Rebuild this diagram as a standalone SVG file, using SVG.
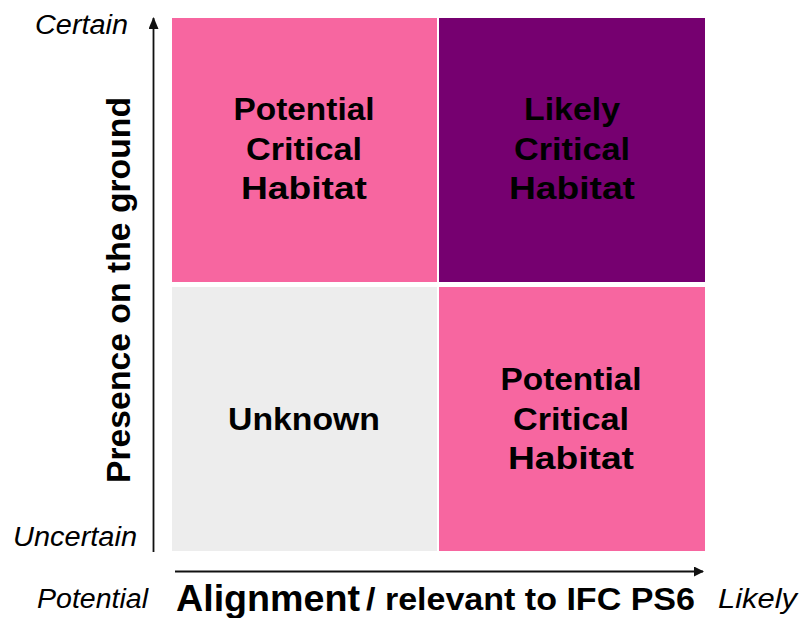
<svg xmlns="http://www.w3.org/2000/svg" width="801" height="618" viewBox="0 0 801 618">
<style>
.q{font-family:"Liberation Sans",Arial,sans-serif;font-weight:bold;font-size:32px;fill:#000;text-anchor:middle}
.it{font-family:"Liberation Sans",Arial,sans-serif;font-style:italic;font-size:27px;fill:#000}
.ax{font-family:"Liberation Sans",Arial,sans-serif;font-weight:bold;fill:#000}
.ln{stroke:#111;stroke-width:1.8;fill:none}
</style>
<defs>
<marker id="ah" markerWidth="10" markerHeight="10" refX="9" refY="5" orient="auto" markerUnits="userSpaceOnUse" viewBox="0 0 10 10">
<path d="M0,0 L10,5 L0,10 z" fill="#111"/>
</marker>
<marker id="av" markerWidth="12" markerHeight="10" refX="11" refY="5" orient="auto" markerUnits="userSpaceOnUse" viewBox="0 0 12 10">
<path d="M0,0 L12,5 L0,10 z" fill="#111"/>
</marker>
</defs>
<rect width="801" height="618" fill="#fff"/>
<g id="q-tl">
<rect x="172" y="18" width="265" height="264" fill="#F766A0"/>
<text class="q" x="304" y="120" textLength="141" lengthAdjust="spacingAndGlyphs">Potential</text>
<text class="q" x="304" y="160" textLength="116" lengthAdjust="spacingAndGlyphs">Critical</text>
<text class="q" x="304" y="199" textLength="126" lengthAdjust="spacingAndGlyphs">Habitat</text>
</g>
<g id="q-tr">
<rect x="439" y="18" width="266" height="264" fill="#760070"/>
<text class="q" x="572" y="120" textLength="96" lengthAdjust="spacingAndGlyphs">Likely</text>
<text class="q" x="572" y="160" textLength="116" lengthAdjust="spacingAndGlyphs">Critical</text>
<text class="q" x="572" y="199" textLength="126" lengthAdjust="spacingAndGlyphs">Habitat</text>
</g>
<g id="q-bl">
<rect x="172" y="287" width="265" height="264" fill="#EDEDED"/>
<text class="q" x="304" y="430" textLength="152" lengthAdjust="spacingAndGlyphs">Unknown</text>
</g>
<g id="q-br">
<rect x="439" y="287" width="266" height="264" fill="#F766A0"/>
<text class="q" x="571" y="390" textLength="141" lengthAdjust="spacingAndGlyphs">Potential</text>
<text class="q" x="571" y="430" textLength="116" lengthAdjust="spacingAndGlyphs">Critical</text>
<text class="q" x="571" y="469" textLength="126" lengthAdjust="spacingAndGlyphs">Habitat</text>
</g>
<g id="connectors">
<line class="ln" x1="153.5" y1="552" x2="153.5" y2="18" marker-end="url(#av)"/>
<line class="ln" x1="175" y1="571.5" x2="703" y2="571.5" marker-end="url(#ah)"/>
</g>
<g id="labels">
<text class="it" x="35" y="34" textLength="93" lengthAdjust="spacingAndGlyphs">Certain</text>
<text class="it" x="13" y="546" textLength="124" lengthAdjust="spacingAndGlyphs">Uncertain</text>
<text class="it" x="37" y="608" textLength="111" lengthAdjust="spacingAndGlyphs">Potential</text>
<text class="it" x="718" y="608" textLength="79" lengthAdjust="spacingAndGlyphs">Likely</text>
<text class="ax" x="176" y="611" font-size="36" textLength="184" lengthAdjust="spacingAndGlyphs">Alignment</text>
<text class="ax" x="366" y="610" font-size="31" textLength="329" lengthAdjust="spacingAndGlyphs">/ relevant to IFC PS6</text>
<text class="ax" transform="translate(130,483) rotate(-90)" x="0" y="0" font-size="33" textLength="386" lengthAdjust="spacingAndGlyphs">Presence on the ground</text>
</g>
</svg>
